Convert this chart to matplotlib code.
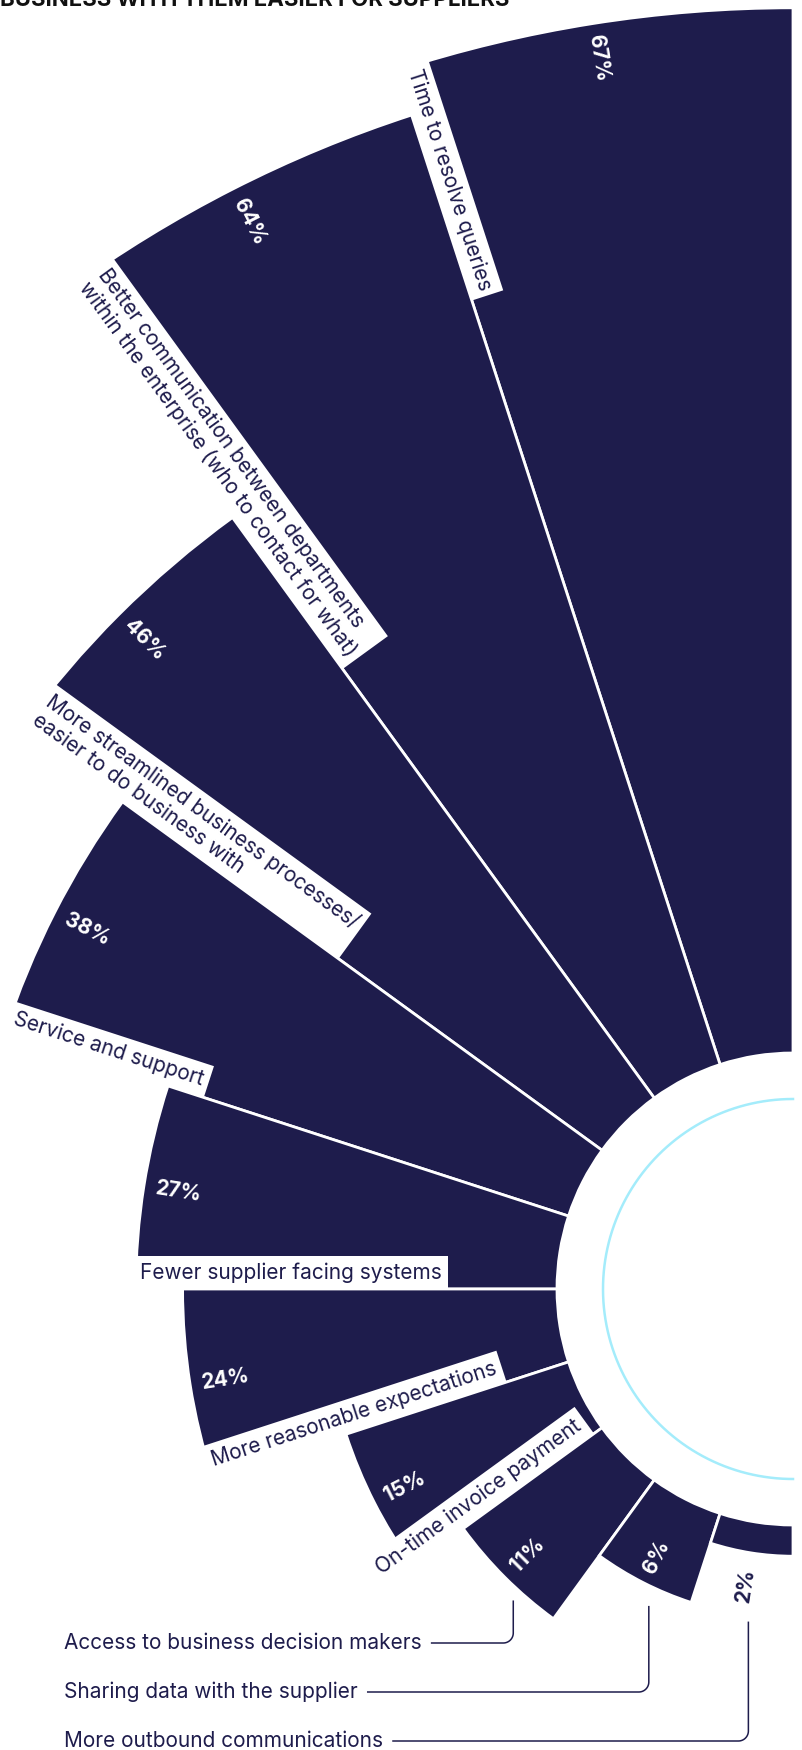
import numpy as np
import matplotlib
matplotlib.use("Agg")
import matplotlib.pyplot as plt
from matplotlib.lines import Line2D
from matplotlib.transforms import IdentityTransform

plt.rcParams['font.family'] = ['Inter', 'DejaVu Sans']

# Data
categories = [
    "Time to resolve queries",
    "Better communication between departments\nwithin the enterprise (who to contact for what)",
    "More streamlined business processes/\neasier to do business with",
    "Service and support",
    "Fewer supplier facing systems",
    "More reasonable expectations",
    "On-time invoice payment",
    "Access to business decision makers",
    "Sharing data with the supplier",
    "More outbound communications",
]
values = [67, 64, 46, 38, 27, 24, 15, 11, 6, 2]
title = "BUSINESS WITH THEM EASIER FOR SUPPLIERS"

NAVY = "#1e1c4c"
CYAN = "#a4ecfb"
W, H = 803, 1750
CX, CY = 793, 1289          # centre of the half circle (px, from top-left)
R_IN = 236                  # inner radius of bars (px)
PX_PER_PCT = 15.6
R_AX = 1300
STEP = 18                   # degrees per bar
N_EDGE = 7                  # bars labelled along their edge, rest get leader lines
FS = 15

fig = plt.figure(figsize=(W / 100, H / 100), dpi=100)
ax = fig.add_axes([(CX - R_AX) / W, (H - CY - R_AX) / H, 2 * R_AX / W, 2 * R_AX / H],
                  projection="polar")
ax.set_theta_zero_location("N")
ax.set_theta_direction(1)
ax.set_ylim(0, R_AX)
ax.axis("off")

n = len(values)
theta_mid = np.radians(STEP * (np.arange(n) + 0.5))
heights = np.array(values) * PX_PER_PCT
ax.bar(theta_mid, heights, width=np.radians(STEP), bottom=R_IN, color=NAVY,
       edgecolor="white", linewidth=2, align="center")

# inner cyan ring
th = np.linspace(0, np.pi, 400)
ax.plot(th, np.full_like(th, 190.0), color=CYAN, lw=1.8)


def dirs(deg):
    t = np.radians(deg)
    up = np.array([np.cos(t), np.sin(t)])
    rd = np.array([np.sin(t), -np.cos(t)])
    return up, rd


fig.canvas.draw()
renderer = fig.canvas.get_renderer()


def text_width(s):
    tmp = fig.text(0, 0, s, fontsize=FS)
    w = tmp.get_window_extent(renderer).width
    tmp.remove()
    return w


# labels along bar edges
pad_px = 0.3 * FS * 100 / 72
for i in range(N_EDGE):
    te = STEP * (i + 1)
    r_out = R_IN + heights[i]
    # keep the label box clear of the inner ring
    r_start = max(r_out, R_IN + text_width(categories[i]) + 2 * pad_px + 8)
    up, rd = dirs(te)
    off = pad_px * up + (pad_px - 2) * rd
    ax.annotate(categories[i], xy=(np.radians(te), r_start), xytext=tuple(off),
                textcoords="offset pixels", rotation=te - 90, rotation_mode="anchor",
                ha="left", va="bottom", fontsize=FS, color=NAVY, linespacing=1.15,
                bbox=dict(boxstyle="square,pad=0.3", fc="white", ec="none"),
                annotation_clip=False, zorder=5)

# percent labels
anchor_r = []
far_r = []
for i in range(n):
    tm = STEP * (i + 0.5)
    r_out = R_IN + heights[i]
    up, rd = dirs(tm)
    if heights[i] > 60:
        off = 12 * rd
        ax.annotate(f"{values[i]}%", xy=(np.radians(tm), r_out), xytext=tuple(off),
                    textcoords="offset pixels", rotation=tm - 90, rotation_mode="anchor",
                    ha="left", va="center", fontsize=FS, fontweight="bold", color="white",
                    annotation_clip=False, zorder=6)
        anchor_r.append(r_out - 12)
        far_r.append(r_out)
    else:
        off = -16 * rd
        ax.annotate(f"{values[i]}%", xy=(np.radians(tm), r_out), xytext=tuple(off),
                    textcoords="offset pixels", rotation=tm - 90, rotation_mode="anchor",
                    ha="right", va="center", fontsize=FS, fontweight="bold", color=NAVY,
                    annotation_clip=False, zorder=6)
        anchor_r.append(r_out + 18)
        far_r.append(r_out + 46)

# title (cut off by the top edge)
fig.text(0.0 / W, (H - 6) / H, title, fontsize=16, fontweight="bold", color="#111111",
         va="baseline", ha="left")

# leader labels for the smallest bars
row0, row_gap, rc = 1643, 49, 10
for k, i in enumerate(range(N_EDGE, n)):
    y_row = H - (row0 + k * row_gap)
    t = fig.text(64 / W, y_row / H, categories[i], fontsize=FS, color=NAVY,
                 va="center", ha="left")
    x_end = t.get_window_extent(renderer).x1 + 10
    tm = np.radians(STEP * (i + 0.5))
    xv, _ = ax.transData.transform((tm, anchor_r[i]))
    _, ytop = ax.transData.transform((tm, far_r[i]))
    ytop -= 24
    a = np.linspace(0, np.pi / 2, 20)
    arc_x = xv - rc + rc * np.cos(a)
    arc_y = y_row + rc - rc * np.sin(a)
    xs = np.concatenate([[xv], arc_x, [x_end]])
    ys = np.concatenate([[ytop], arc_y, [y_row]])
    fig.add_artist(Line2D(xs, ys, transform=IdentityTransform(), color=NAVY, lw=1.1))

fig.savefig("out.png", dpi=100, facecolor="white")
